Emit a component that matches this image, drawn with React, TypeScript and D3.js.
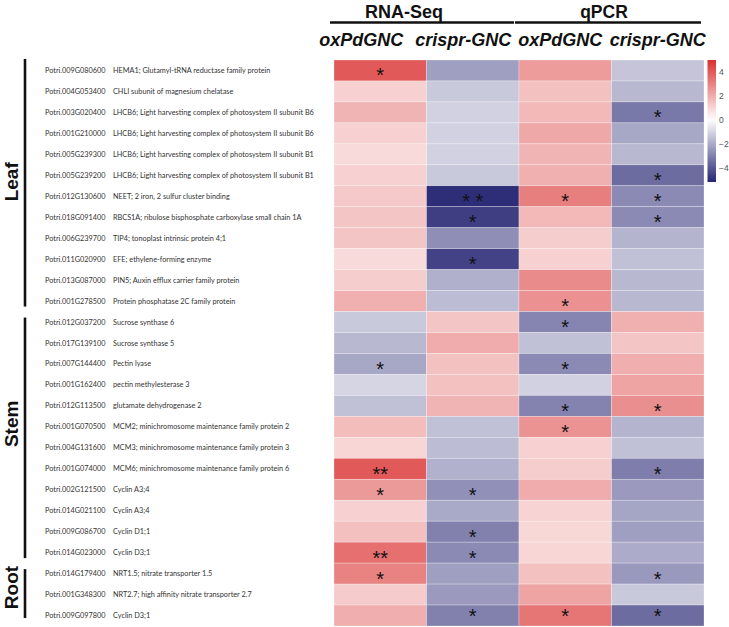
import React from "react";
import * as d3 from "d3";

const geneIds = [
  "Potri.009G080600", "Potri.004G053400", "Potri.003G020400", "Potri.001G210000",
  "Potri.005G239300", "Potri.005G239200", "Potri.012G130600", "Potri.018G091400",
  "Potri.006G239700", "Potri.011G020900", "Potri.013G087000", "Potri.001G278500",
  "Potri.012G037200", "Potri.017G139100", "Potri.007G144400", "Potri.001G162400",
  "Potri.012G113500", "Potri.001G070500", "Potri.004G131600", "Potri.001G074000",
  "Potri.002G121500", "Potri.014G021100", "Potri.009G086700", "Potri.014G023000",
  "Potri.014G179400", "Potri.001G348300", "Potri.009G097800",
];

const descriptions = [
  "HEMA1; Glutamyl-tRNA reductase family protein",
  "CHLI subunit of magnesium chelatase",
  "LHCB6; Light harvesting complex of photosystem II subunit B6",
  "LHCB6; Light harvesting complex of photosystem II subunit B6",
  "LHCB6; Light harvesting complex of photosystem II subunit B1",
  "LHCB6; Light harvesting complex of photosystem II subunit B1",
  "NEET; 2 iron, 2 sulfur cluster binding",
  "RBCS1A; ribulose bisphosphate carboxylase small chain 1A",
  "TIP4; tonoplast intrinsic protein 4;1",
  "EFE; ethylene-forming enzyme",
  "PIN5; Auxin efflux carrier family protein",
  "Protein phosphatase 2C family protein",
  "Sucrose synthase 6",
  "Sucrose synthase 5",
  "Pectin lyase",
  "pectin methylesterase 3",
  "glutamate dehydrogenase 2",
  "MCM2; minichromosome maintenance family protein 2",
  "MCM3; minichromosome maintenance family protein 3",
  "MCM6; minichromosome maintenance family protein 6",
  "Cyclin A3;4",
  "Cyclin A3;4",
  "Cyclin D1;1",
  "Cyclin D3;1",
  "NRT1.5; nitrate transporter 1.5",
  "NRT2.7; high affinity nitrate transporter 2.7",
  "Cyclin D3;1",
];

const columns = ["RNA-Seq oxPdGNC", "RNA-Seq crispr-GNC", "qPCR oxPdGNC", "qPCR crispr-GNC"];
const columnLabels = ["oxPdGNC", "crispr-GNC", "oxPdGNC", "crispr-GNC"];
const methodLabels = ["RNA-Seq", "qPCR"];

const rnaOx = [4.0, 1.1, 1.8, 1.1, 0.9, 1.1, 1.3, 1.4, 1.4, 0.9, 1.2, 1.9, -1.3, -1.7, -2.1, -1.0, -1.5, 1.6, 1.0, 4.0, 2.45, 1.1, 1.55, 3.45, 3.0, 1.25, 1.95];
const rnaCr = [-2.3, -1.3, -1.1, -1.1, -1.1, -1.3, -5.0, -4.6, -2.7, -4.5, -1.9, -1.6, 1.4, 2.0, 1.5, 1.5, 1.8, -1.5, -1.6, -1.85, -2.65, -2.05, -3.0, -2.8, -2.3, -2.4, -3.0];
const qOx = [2.4, 1.5, 1.7, 2.1, 1.8, 1.9, 3.1, 1.7, 1.2, 1.1, 2.8, 2.65, -2.9, -1.5, -2.8, -1.1, -2.95, 2.6, 1.1, 1.2, 2.0, 1.05, 0.95, 1.0, 1.5, 2.2, 3.3];
const qCr = [-1.4, -1.7, -3.2, -2.1, -1.7, -3.5, -2.8, -2.8, -1.8, -1.5, -1.7, -1.7, 1.9, 1.4, 1.95, 2.2, 2.7, -1.8, -1.5, -3.1, -2.4, -2.15, -2.3, -2.0, -2.45, -1.3, -3.5];

const sigRnaOx = ["*", "", "", "", "", "", "", "", "", "", "", "", "", "", "*", "", "", "", "", "**", "*", "", "", "**", "*", "", ""];
const sigRnaCr = ["", "", "", "", "", "", "* *", "*", "", "*", "", "", "", "", "", "", "", "", "", "", "*", "", "*", "*", "", "", "*"];
const sigQOx = ["", "", "", "", "", "", "*", "", "", "", "", "*", "*", "", "*", "", "*", "*", "", "", "", "", "", "", "", "", "*"];
const sigQCr = ["", "", "*", "", "", "*", "*", "*", "", "", "", "", "", "", "", "", "*", "", "", "*", "", "", "", "", "*", "", "*"];

const groups = ["Leaf", "Stem", "Root"];
const groupSizes = [12, 12, 3];

const legendTicks = [4, 2, 0, -2, -4];

export default function App() {
  const values = [rnaOx, rnaCr, qOx, qCr];
  const sigs = [sigRnaOx, sigRnaCr, sigQOx, sigQCr];
  const rowIdx = geneIds.map((_, i) => i);

  const x = d3.scaleBand<number>().domain(columns.map((_, i) => i)).range([334, 704]);
  const y = d3.scaleBand<number>().domain(rowIdx).range([60, 626]);
  const color = d3
    .scaleLinear<string>()
    .domain([-5.2, 0, 5])
    .range(["#262573", "#ffffff", "#d9302f"])
    .interpolate(d3.interpolateRgb)
    .clamp(true);
  const legendY = d3.scaleLinear().domain([-5.2, 5]).range([182, 60]);

  const groupStarts: number[] = [];
  groupSizes.reduce((acc, s) => {
    groupStarts.push(acc);
    return acc + s;
  }, 0);

  // gradient stops from top (max) to bottom (min), increasing offsets
  const stops = d3.range(0, 1.0001, 0.05).map((t) => {
    const v = 5 - t * 10.2;
    return { offset: t, c: color(v) };
  });

  const arial = "'Liberation Sans', Arial, sans-serif";
  const labelFont = "Lato, 'Open Sans', sans-serif";

  // layout offsets for header labels (relative to column centers)
  const colLabelShift = [-19, -9.5, -5, 0];
  const titleCenters = [404, 604];
  const groupLabelShift = [-1, -14, -6];

  return (
    <svg width={729} height={627} style={{ position: "absolute", left: 0, top: 0, background: "#fff" }}>
      <defs>
        <linearGradient id="lg" x1="0" y1="0" x2="0" y2="1">
          {stops.map((s, i) => (
            <stop key={i} offset={s.offset} stopColor={s.c} />
          ))}
        </linearGradient>
      </defs>

      {/* headers */}
      {methodLabels.map((m, i) => {
        const x0 = x(i * 2)!;
        const x1 = x(i * 2 + 1)! + x.bandwidth();
        return (
          <g key={m}>
            <text x={titleCenters[i]} y={17.5} textAnchor="middle" fontFamily={arial} fontWeight="bold" fontSize={i === 0 ? 18 : 17.5} fill="#111">
              {m}
            </text>
            <line x1={x0 - 4} x2={x1 - (i === 0 ? 5 : 3)} y1={22.5} y2={22.5} stroke="#111" strokeWidth={2.6} />
          </g>
        );
      })}
      {columnLabels.map((c, i) => (
        <text key={i} x={x(i)! + x.bandwidth() / 2 + colLabelShift[i]} y={45.5} textAnchor="middle" fontFamily={arial} fontWeight="bold" fontStyle="italic" fontSize={18} fill="#111">
          {c}
        </text>
      ))}

      {/* cells */}
      {values.map((col, ci) =>
        col.map((v, ri) => (
          <rect
            key={`${ci}-${ri}`}
            x={x(ci)}
            y={y(ri)}
            width={x.bandwidth()}
            height={y.bandwidth()}
            fill={color(v)}
            stroke="rgba(255,255,255,0.45)"
            strokeWidth={0.6}
          />
        ))
      )}
      {sigs.map((col, ci) =>
        col.map((s, ri) =>
          s ? (
            <text
              key={`s${ci}-${ri}`}
              x={x(ci)! + x.bandwidth() / 2}
              y={Math.min(y(ri)! + y.bandwidth() / 2 + 12, 622.5)}
              textAnchor="middle"
              fontFamily={arial}
              fontSize={20}
              fill="#111"
            >
              {s}
            </text>
          ) : null
        )
      )}

      {/* row labels */}
      {rowIdx.map((i) => (
        <g key={`r${i}`} fontFamily={labelFont} fontSize={7.3} fill="#333">
          <text x={45} y={y(i)! + y.bandwidth() / 2} dominantBaseline="central">
            {geneIds[i]}
          </text>
          <text x={113} y={y(i)! + y.bandwidth() / 2} dominantBaseline="central">
            {descriptions[i]}
          </text>
        </g>
      ))}

      {/* groups */}
      {groups.map((g, gi) => {
        const top = y(groupStarts[gi])! + 1;
        const bottom = y(groupStarts[gi] + groupSizes[gi] - 1)! + y.bandwidth() - (gi === 2 ? 8 : 5);
        const topAdj = gi === 0 ? top - 2 : top + 5;
        const cy = (topAdj + bottom) / 2 + groupLabelShift[gi];
        return (
          <g key={g}>
            <line x1={25} x2={25} y1={topAdj} y2={bottom} stroke="#111" strokeWidth={2.6} />
            <text
              transform={`translate(18,${cy}) rotate(-90)`}
              textAnchor="middle"
              fontFamily={arial}
              fontWeight="bold"
              fontSize={19}
              fill="#111"
            >
              {g}
            </text>
          </g>
        );
      })}

      {/* legend */}
      <rect x={707.5} y={legendY(5)} width={8.5} height={legendY(-5.2) - legendY(5)} fill="url(#lg)" />
      {legendTicks.map((t) => (
        <text key={t} x={719} y={legendY(t)} dominantBaseline="central" fontFamily={arial} fontSize={8.5} fill="#555">
          {t < 0 ? `\u2212${Math.abs(t)}` : t}
        </text>
      ))}
    </svg>
  );
}
